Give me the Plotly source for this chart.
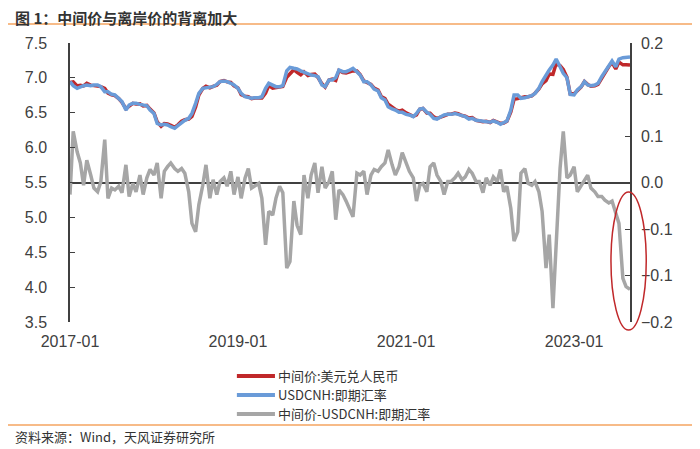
import pandas as pd
import plotly.graph_objects as go

# semi-monthly observations, Jan 2017 .. Sep 2023
dates = pd.date_range("2017-01-01", "2023-09-01", freq="SMS")

# USDCNH spot (blue)
usdcnh = [
    6.946, 6.888, 6.850, 6.874, 6.888, 6.898, 6.888, 6.898, 6.898, 6.874, 6.802, 6.800,
    6.764, 6.755, 6.707, 6.659, 6.539, 6.611, 6.635, 6.635, 6.620, 6.611, 6.600, 6.539,
    6.490, 6.348, 6.324, 6.334, 6.324, 6.300, 6.277, 6.315, 6.363, 6.391, 6.420, 6.490,
    6.635, 6.778, 6.850, 6.860, 6.874, 6.874, 6.907, 6.946, 6.955, 6.946, 6.922, 6.898,
    6.850, 6.778, 6.730, 6.716, 6.707, 6.716, 6.716, 6.730, 6.850, 6.922, 6.888, 6.874,
    6.874, 6.888, 7.100, 7.151, 7.137, 7.127, 7.100, 7.079, 7.051, 7.041, 7.032, 7.017,
    6.898, 6.874, 6.970, 6.970, 7.003, 7.113, 7.089, 7.089, 7.113, 7.137, 7.089, 7.041,
    6.946, 6.946, 6.898, 6.840, 6.812, 6.716, 6.683, 6.587, 6.554, 6.539, 6.506, 6.506,
    6.477, 6.468, 6.444, 6.490, 6.554, 6.563, 6.506, 6.477, 6.420, 6.410, 6.444, 6.468,
    6.477, 6.477, 6.490, 6.477, 6.458, 6.444, 6.410, 6.420, 6.391, 6.382, 6.382, 6.372,
    6.363, 6.382, 6.363, 6.334, 6.363, 6.382, 6.539, 6.755, 6.755, 6.707, 6.716, 6.730,
    6.745, 6.778, 6.850, 6.946, 7.051, 7.113, 7.185, 7.270, 7.160, 7.065, 7.003, 6.764,
    6.755, 6.826, 6.874, 6.946, 6.898, 6.888, 6.898, 6.922, 7.017, 7.089, 7.185, 7.242,
    7.160, 7.270, 7.290, 7.300, 7.300,
]

# USDCNY central parity (red)
fixing = [
    6.933, 6.943, 6.883, 6.895, 6.885, 6.922, 6.896, 6.892, 6.888, 6.875, 6.848, 6.783,
    6.758, 6.747, 6.703, 6.648, 6.558, 6.596, 6.634, 6.625, 6.628, 6.598, 6.605, 6.553,
    6.498, 6.369, 6.307, 6.346, 6.341, 6.321, 6.292, 6.327, 6.378, 6.401, 6.410, 6.446,
    6.582, 6.754, 6.847, 6.879, 6.857, 6.877, 6.894, 6.947, 6.960, 6.942, 6.934, 6.885,
    6.856, 6.761, 6.735, 6.731, 6.701, 6.712, 6.715, 6.713, 6.783, 6.891, 6.853, 6.857,
    6.870, 6.877, 7.008, 7.066, 7.117, 7.081, 7.044, 7.087, 7.034, 7.049, 7.053, 7.006,
    6.915, 6.868, 6.971, 6.982, 6.963, 7.105, 7.076, 7.069, 7.085, 7.100, 7.099, 7.049,
    6.958, 6.933, 6.906, 6.854, 6.824, 6.733, 6.704, 6.622, 6.573, 6.547, 6.523, 6.538,
    6.498, 6.480, 6.449, 6.470, 6.551, 6.562, 6.496, 6.494, 6.441, 6.418, 6.445, 6.455,
    6.478, 6.478, 6.495, 6.487, 6.461, 6.450, 6.424, 6.430, 6.392, 6.383, 6.371, 6.377,
    6.360, 6.388, 6.364, 6.348, 6.353, 6.378, 6.511, 6.692, 6.702, 6.717, 6.731, 6.729,
    6.742, 6.779, 6.840, 6.915, 6.959, 7.057, 7.050, 7.207, 7.175, 7.120, 7.008, 6.772,
    6.772, 6.816, 6.871, 6.947, 6.906, 6.882, 6.888, 6.907, 7.002, 7.070, 7.163, 7.222,
    7.127, 7.226, 7.187, 7.188, 7.185,
]

# central parity minus USDCNH (grey, right axis)
spread = [
    -0.013, 0.055, 0.033, 0.021, -0.003, 0.024, 0.008, -0.006, -0.010, 0.001, 0.046, -0.017,
    -0.006, -0.008, -0.004, -0.011, 0.019, -0.015, -0.001, -0.010, 0.008, -0.013, 0.005, 0.014,
    0.008, 0.021, -0.017, 0.012, 0.017, 0.021, 0.015, 0.012, 0.015, 0.010, -0.010, -0.044,
    -0.053, -0.024, -0.003, 0.019, -0.017, 0.003, -0.013, 0.001, 0.005, -0.004, 0.012, -0.013,
    0.006, -0.017, 0.005, 0.015, -0.006, -0.004, -0.001, -0.017, -0.067, -0.031, -0.035, -0.017,
    -0.004, -0.011, -0.092, -0.085, -0.020, -0.046, -0.056, 0.008, -0.017, 0.008, 0.021, -0.011,
    0.017, -0.006, 0.001, 0.012, -0.040, -0.008, -0.013, -0.020, -0.028, -0.037, 0.010, 0.008,
    0.012, -0.013, 0.008, 0.014, 0.012, 0.017, 0.021, 0.035, 0.019, 0.008, 0.017, 0.032,
    0.021, 0.012, 0.005, -0.020, -0.003, -0.001, -0.010, 0.017, 0.021, 0.008, 0.001, -0.013,
    0.001, 0.001, 0.005, 0.010, 0.003, 0.006, 0.014, 0.010, 0.001, 0.001, -0.011, 0.005,
    -0.003, 0.006, 0.001, 0.014, -0.010, -0.004, -0.028, -0.063, -0.053, 0.010, 0.015, -0.001,
    -0.003, 0.001, -0.010, -0.031, -0.092, -0.056, -0.135, -0.063, 0.015, 0.055, 0.005, 0.008,
    0.017, -0.010, -0.003, 0.001, 0.008, -0.006, -0.010, -0.015, -0.015, -0.019, -0.022, -0.020,
    -0.033, -0.044, -0.103, -0.112, -0.115,
]

series_names = ["中间价:美元兑人民币", "USDCNH:即期汇率", "中间价-USDCNH:即期汇率"]
series_colors = ["#C0282A", "#6A9BD8", "#A6A6A6"]

left_ticks = [3.5, 4.0, 4.5, 5.0, 5.5, 6.0, 6.5, 7.0, 7.5]
right_ticks = [-0.15, -0.10, -0.05, 0.0, 0.05, 0.10, 0.15]
right_labels = ["−0.2", "−0.1", "−0.1", "0.0", "0.1", "0.1", "0.2"]

AXIS = "#404040"
TICK_FONT = dict(family="Liberation Sans", size=16, color=AXIS)
CJK = "Noto Sans CJK SC"

fig = go.Figure()
for vals, name, color, axis in zip([fixing, usdcnh, spread], series_names, series_colors,
                                   ["y", "y", "y2"]):
    fig.add_trace(go.Scatter(x=dates, y=vals, mode="lines", name=name, yaxis=axis,
                             line=dict(color=color, width=3.5), showlegend=False))

# the page body adds an 8px offset, so the figure is 8px smaller on each side
fig.update_layout(
    width=692, height=441,
    margin=dict(l=62, r=70, t=35, b=127, autoexpand=False),
    paper_bgcolor="white", plot_bgcolor="white",
    xaxis=dict(type="date", range=["2017-01-01", "2023-09-01"], tick0="2017-01-01",
               dtick="M24", tickformat="%Y-%m", ticks="", showline=False,
               showgrid=False, zeroline=False, tickfont=TICK_FONT, ticklabelstandoff=8),
    yaxis=dict(range=[3.5, 7.5], tickvals=left_ticks, tickformat=".1f", ticks="inside",
               ticklen=5, tickcolor=AXIS, showline=True, linecolor=AXIS, linewidth=1.5,
               showgrid=False, zeroline=False, tickfont=TICK_FONT, ticklabelstandoff=18),
    yaxis2=dict(range=[-0.15, 0.15], tickvals=right_ticks, ticktext=right_labels,
                overlaying="y", side="right", ticks="inside", ticklen=5, tickcolor=AXIS,
                showline=True, linecolor=AXIS, linewidth=1.5, showgrid=False,
                zeroline=True, zerolinecolor=AXIS, zerolinewidth=1.5,
                tickfont=TICK_FONT, ticklabelstandoff=6),
)

# compact legend below the plot
row_gap = 0.0681
for k, (name, color) in enumerate(zip(series_names, series_colors)):
    yy = -0.1935 - row_gap * k
    fig.add_shape(type="line", xref="paper", yref="paper", x0=0.298, x1=0.366, y0=yy, y1=yy,
                  line=dict(color=color, width=4))
    fig.add_annotation(text=name, xref="paper", yref="paper", x=0.370, y=yy,
                       xanchor="left", yanchor="middle", showarrow=False, borderpad=0,
                       font=dict(family=CJK, size=13, color="#333333"))

# title, source and the orange rules
fig.add_annotation(text="<b>图 1：中间价与离岸价的背离加大</b>", xref="paper", yref="paper",
                   x=-0.102, y=1.090, xanchor="left", yanchor="middle", showarrow=False,
                   font=dict(family=CJK, size=15, color="#333333"))
fig.add_annotation(text="资料来源：Wind，天风证券研究所", xref="paper", yref="paper",
                   x=-0.102, y=-0.412, xanchor="left", yanchor="middle", showarrow=False,
                   font=dict(family=CJK, size=13, color="#333333"))
for yy in [1.068, -0.369]:
    fig.add_shape(type="line", xref="paper", yref="paper", x0=-0.116, x1=1.116, y0=yy, y1=yy,
                  line=dict(color="#F4A460", width=1.5))

# red ellipse around the recent divergence
fig.add_shape(type="circle", xref="paper", yref="paper", x0=0.966, x1=1.029, y0=-0.029, y1=0.466,
              line=dict(color="#C0282A", width=1.5))

fig.write_html("out.html")
